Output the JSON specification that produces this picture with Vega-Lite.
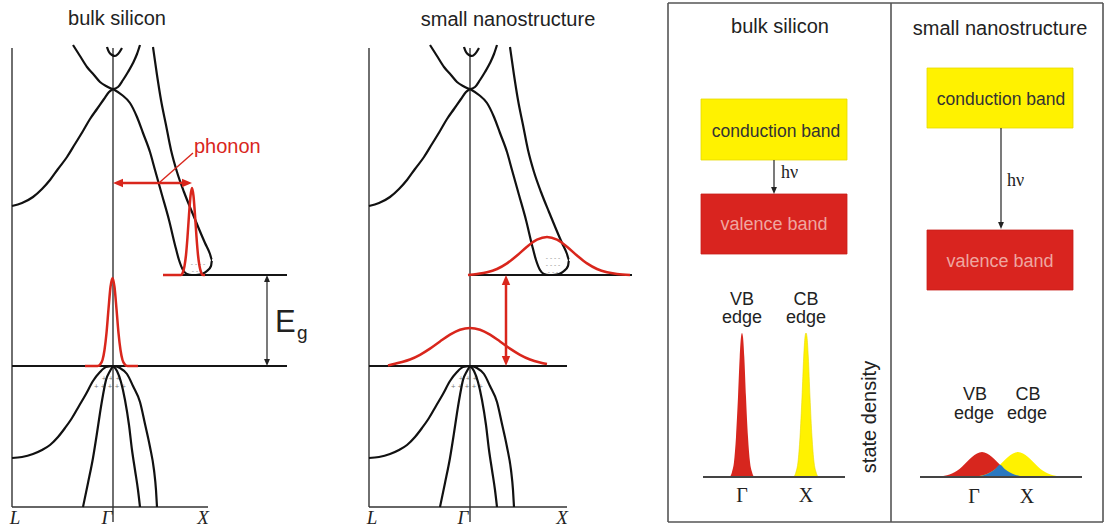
{
"$schema": "https://vega.github.io/schema/vega-lite/v6.json",
"width": 1105, "height": 531,
"autosize": {"type": "fit", "contains": "padding"},
"padding": 0,
"background": "white",
"config": {"view": {"stroke": null}},
"datasets": {
"frame": [{"x":668,"y":3,"x2":1103,"y2":3},{"x":668,"y":522,"x2":1103,"y2":522},{"x":668,"y":3,"x2":668,"y2":522},{"x":1103,"y":3,"x2":1103,"y2":522},{"x":891,"y":3,"x2":891,"y2":522}],
"axes": [{"x":12,"y":48,"x2":12,"y2":507},{"x":113,"y":48,"x2":113,"y2":522},{"x":12,"y":507,"x2":208,"y2":507},{"x":369,"y":48,"x2":369,"y2":507},{"x":470,"y":48,"x2":470,"y2":522},{"x":369,"y":507,"x2":567,"y2":507}],
"hlines": [{"x":12,"y":366,"x2":287,"y2":366},{"x":165,"y":275,"x2":287,"y2":275},{"x":369,"y":366,"x2":567,"y2":366},{"x":470,"y":275,"x2":632,"y2":275}],
"blackarrows": [{"x":267,"y":280,"x2":267,"y2":361},{"x":774,"y":160,"x2":774,"y2":188},{"x":1001,"y":128,"x2":1001,"y2":223}],
"redarrows": [{"x":119,"y":183,"x2":186,"y2":183},{"x":506,"y":282,"x2":506,"y2":359}],
"leader": [{"x":160,"y":182,"x2":193,"y2":153}],
"headsRed": [{"x":113,"y":183,"dir":"L"},{"x":192,"y":183,"dir":"R"},{"x":506,"y":275,"dir":"U"},{"x":506,"y":366,"dir":"D"}],
"headsBlack": [{"x":267,"y":275,"dir":"U"},{"x":267,"y":366,"dir":"D"},{"x":774,"y":194,"dir":"D"},{"x":1001,"y":229,"dir":"D"}],
"bands": [
{"c":"a1","i":1,"x":12,"y":206},{"c":"a1","i":2,"x":22,"y":203},{"c":"a1","i":3,"x":33,"y":197},{"c":"a1","i":4,"x":42,"y":189},{"c":"a1","i":5,"x":50,"y":180},{"c":"a1","i":6,"x":58,"y":169},{"c":"a1","i":7,"x":67,"y":157},{"c":"a1","i":8,"x":75,"y":144},{"c":"a1","i":9,"x":83,"y":131},{"c":"a1","i":10,"x":90,"y":119},{"c":"a1","i":11,"x":97,"y":109},{"c":"a1","i":12,"x":104,"y":99},{"c":"a1","i":13,"x":109,"y":92},{"c":"a1","i":14,"x":113,"y":89},
{"c":"a2","i":1,"x":113,"y":89},{"c":"a2","i":2,"x":122,"y":95},{"c":"a2","i":3,"x":130,"y":103},{"c":"a2","i":4,"x":137,"y":117},{"c":"a2","i":5,"x":143,"y":133},{"c":"a2","i":6,"x":150,"y":152},{"c":"a2","i":7,"x":155,"y":170},{"c":"a2","i":8,"x":162,"y":195},{"c":"a2","i":9,"x":169,"y":220},{"c":"a2","i":10,"x":175,"y":245},{"c":"a2","i":11,"x":179,"y":260},{"c":"a2","i":12,"x":183,"y":270},{"c":"a2","i":13,"x":187,"y":274},{"c":"a2","i":14,"x":192,"y":275},{"c":"a2","i":15,"x":197,"y":275},
{"c":"a3","i":1,"x":153,"y":47},{"c":"a3","i":2,"x":157,"y":75},{"c":"a3","i":3,"x":161,"y":100},{"c":"a3","i":4,"x":166,"y":125},{"c":"a3","i":5,"x":171,"y":150},{"c":"a3","i":6,"x":177,"y":172},{"c":"a3","i":7,"x":184,"y":192},{"c":"a3","i":8,"x":192,"y":212},{"c":"a3","i":9,"x":199,"y":229},{"c":"a3","i":10,"x":205,"y":243},{"c":"a3","i":11,"x":210,"y":254},{"c":"a3","i":12,"x":212,"y":260},{"c":"a3","i":13,"x":211,"y":266},{"c":"a3","i":14,"x":207,"y":271},{"c":"a3","i":15,"x":202,"y":274},{"c":"a3","i":16,"x":196,"y":275},
{"c":"a4","i":1,"x":73,"y":45},{"c":"a4","i":2,"x":80,"y":56},{"c":"a4","i":3,"x":87,"y":67},{"c":"a4","i":4,"x":94,"y":75},{"c":"a4","i":5,"x":100,"y":82},{"c":"a4","i":6,"x":106,"y":86},{"c":"a4","i":7,"x":113,"y":89},{"c":"a4","i":8,"x":118,"y":87},{"c":"a4","i":9,"x":123,"y":80},{"c":"a4","i":10,"x":128,"y":72},{"c":"a4","i":11,"x":133,"y":63},{"c":"a4","i":12,"x":137,"y":54},{"c":"a4","i":13,"x":140,"y":45},
{"c":"a5","i":1,"x":107,"y":47},{"c":"a5","i":2,"x":109,"y":52},{"c":"a5","i":3,"x":112,"y":55},{"c":"a5","i":4,"x":115,"y":56},{"c":"a5","i":5,"x":118,"y":54},{"c":"a5","i":6,"x":122,"y":48},
{"c":"a6","i":1,"x":12,"y":458},{"c":"a6","i":2,"x":22,"y":457},{"c":"a6","i":3,"x":33,"y":454},{"c":"a6","i":4,"x":42,"y":450},{"c":"a6","i":5,"x":50,"y":445},{"c":"a6","i":6,"x":58,"y":437},{"c":"a6","i":7,"x":65,"y":428},{"c":"a6","i":8,"x":72,"y":418},{"c":"a6","i":9,"x":79,"y":406},{"c":"a6","i":10,"x":86,"y":394},{"c":"a6","i":11,"x":93,"y":381},{"c":"a6","i":12,"x":100,"y":372},{"c":"a6","i":13,"x":106,"y":367},{"c":"a6","i":14,"x":113,"y":366},
{"c":"a7","i":1,"x":113,"y":366},{"c":"a7","i":2,"x":110,"y":371},{"c":"a7","i":3,"x":106,"y":380},{"c":"a7","i":4,"x":103,"y":395},{"c":"a7","i":5,"x":100,"y":413},{"c":"a7","i":6,"x":97,"y":433},{"c":"a7","i":7,"x":93,"y":458},{"c":"a7","i":8,"x":88,"y":483},{"c":"a7","i":9,"x":83,"y":507},
{"c":"a8","i":1,"x":113,"y":366},{"c":"a8","i":2,"x":117,"y":371},{"c":"a8","i":3,"x":121,"y":382},{"c":"a8","i":4,"x":125,"y":400},{"c":"a8","i":5,"x":129,"y":425},{"c":"a8","i":6,"x":132,"y":450},{"c":"a8","i":7,"x":135,"y":470},{"c":"a8","i":8,"x":138,"y":490},{"c":"a8","i":9,"x":140,"y":507},
{"c":"a9","i":1,"x":113,"y":366},{"c":"a9","i":2,"x":120,"y":368},{"c":"a9","i":3,"x":127,"y":374},{"c":"a9","i":4,"x":133,"y":386},{"c":"a9","i":5,"x":140,"y":402},{"c":"a9","i":6,"x":145,"y":424},{"c":"a9","i":7,"x":150,"y":447},{"c":"a9","i":8,"x":154,"y":470},{"c":"a9","i":9,"x":156,"y":490},{"c":"a9","i":10,"x":157,"y":507},
{"c":"b1","i":1,"x":369,"y":206},{"c":"b1","i":2,"x":379,"y":203},{"c":"b1","i":3,"x":390,"y":197},{"c":"b1","i":4,"x":399,"y":189},{"c":"b1","i":5,"x":407,"y":180},{"c":"b1","i":6,"x":415,"y":169},{"c":"b1","i":7,"x":424,"y":157},{"c":"b1","i":8,"x":432,"y":144},{"c":"b1","i":9,"x":440,"y":131},{"c":"b1","i":10,"x":447,"y":119},{"c":"b1","i":11,"x":454,"y":109},{"c":"b1","i":12,"x":461,"y":99},{"c":"b1","i":13,"x":466,"y":92},{"c":"b1","i":14,"x":470,"y":89},
{"c":"b2","i":1,"x":470,"y":89},{"c":"b2","i":2,"x":479,"y":95},{"c":"b2","i":3,"x":487,"y":103},{"c":"b2","i":4,"x":494,"y":117},{"c":"b2","i":5,"x":500,"y":133},{"c":"b2","i":6,"x":507,"y":152},{"c":"b2","i":7,"x":512,"y":170},{"c":"b2","i":8,"x":519,"y":195},{"c":"b2","i":9,"x":526,"y":220},{"c":"b2","i":10,"x":532,"y":245},{"c":"b2","i":11,"x":536,"y":260},{"c":"b2","i":12,"x":540,"y":270},{"c":"b2","i":13,"x":544,"y":274},{"c":"b2","i":14,"x":549,"y":275},{"c":"b2","i":15,"x":554,"y":275},
{"c":"b3","i":1,"x":510,"y":47},{"c":"b3","i":2,"x":514,"y":75},{"c":"b3","i":3,"x":518,"y":100},{"c":"b3","i":4,"x":523,"y":125},{"c":"b3","i":5,"x":528,"y":150},{"c":"b3","i":6,"x":534,"y":172},{"c":"b3","i":7,"x":541,"y":192},{"c":"b3","i":8,"x":549,"y":212},{"c":"b3","i":9,"x":556,"y":229},{"c":"b3","i":10,"x":562,"y":243},{"c":"b3","i":11,"x":567,"y":254},{"c":"b3","i":12,"x":569,"y":260},{"c":"b3","i":13,"x":568,"y":266},{"c":"b3","i":14,"x":564,"y":271},{"c":"b3","i":15,"x":559,"y":274},{"c":"b3","i":16,"x":553,"y":275},
{"c":"b4","i":1,"x":430,"y":45},{"c":"b4","i":2,"x":437,"y":56},{"c":"b4","i":3,"x":444,"y":67},{"c":"b4","i":4,"x":451,"y":75},{"c":"b4","i":5,"x":457,"y":82},{"c":"b4","i":6,"x":463,"y":86},{"c":"b4","i":7,"x":470,"y":89},{"c":"b4","i":8,"x":475,"y":87},{"c":"b4","i":9,"x":480,"y":80},{"c":"b4","i":10,"x":485,"y":72},{"c":"b4","i":11,"x":490,"y":63},{"c":"b4","i":12,"x":494,"y":54},{"c":"b4","i":13,"x":497,"y":45},
{"c":"b5","i":1,"x":464,"y":47},{"c":"b5","i":2,"x":466,"y":52},{"c":"b5","i":3,"x":469,"y":55},{"c":"b5","i":4,"x":472,"y":56},{"c":"b5","i":5,"x":475,"y":54},{"c":"b5","i":6,"x":479,"y":48},
{"c":"b6","i":1,"x":369,"y":458},{"c":"b6","i":2,"x":379,"y":457},{"c":"b6","i":3,"x":390,"y":454},{"c":"b6","i":4,"x":399,"y":450},{"c":"b6","i":5,"x":407,"y":445},{"c":"b6","i":6,"x":415,"y":437},{"c":"b6","i":7,"x":422,"y":428},{"c":"b6","i":8,"x":429,"y":418},{"c":"b6","i":9,"x":436,"y":406},{"c":"b6","i":10,"x":443,"y":394},{"c":"b6","i":11,"x":450,"y":381},{"c":"b6","i":12,"x":457,"y":372},{"c":"b6","i":13,"x":463,"y":367},{"c":"b6","i":14,"x":470,"y":366},
{"c":"b7","i":1,"x":470,"y":366},{"c":"b7","i":2,"x":467,"y":371},{"c":"b7","i":3,"x":463,"y":380},{"c":"b7","i":4,"x":460,"y":395},{"c":"b7","i":5,"x":457,"y":413},{"c":"b7","i":6,"x":454,"y":433},{"c":"b7","i":7,"x":450,"y":458},{"c":"b7","i":8,"x":445,"y":483},{"c":"b7","i":9,"x":440,"y":507},
{"c":"b8","i":1,"x":470,"y":366},{"c":"b8","i":2,"x":474,"y":371},{"c":"b8","i":3,"x":478,"y":382},{"c":"b8","i":4,"x":482,"y":400},{"c":"b8","i":5,"x":486,"y":425},{"c":"b8","i":6,"x":489,"y":450},{"c":"b8","i":7,"x":492,"y":470},{"c":"b8","i":8,"x":495,"y":490},{"c":"b8","i":9,"x":497,"y":507},
{"c":"b9","i":1,"x":470,"y":366},{"c":"b9","i":2,"x":477,"y":368},{"c":"b9","i":3,"x":484,"y":374},{"c":"b9","i":4,"x":490,"y":386},{"c":"b9","i":5,"x":497,"y":402},{"c":"b9","i":6,"x":502,"y":424},{"c":"b9","i":7,"x":507,"y":447},{"c":"b9","i":8,"x":511,"y":470},{"c":"b9","i":9,"x":513,"y":490},{"c":"b9","i":10,"x":514,"y":507}
],
"red": [
{"c":"r1","i":1,"x":85,"y":366},{"c":"r1","i":2,"x":97.5,"y":366},{"c":"r1","i":3,"x":100.5,"y":364},{"c":"r1","i":4,"x":102.5,"y":360},{"c":"r1","i":5,"x":104.5,"y":350},{"c":"r1","i":6,"x":106.5,"y":333},{"c":"r1","i":7,"x":108.5,"y":309},{"c":"r1","i":8,"x":110.5,"y":287},{"c":"r1","i":9,"x":112.5,"y":278},{"c":"r1","i":10,"x":114.5,"y":287},{"c":"r1","i":11,"x":116.5,"y":309},{"c":"r1","i":12,"x":118.5,"y":333},{"c":"r1","i":13,"x":120.5,"y":350},{"c":"r1","i":14,"x":122.5,"y":360},{"c":"r1","i":15,"x":124.5,"y":364},{"c":"r1","i":16,"x":127.5,"y":366},{"c":"r1","i":17,"x":138,"y":366},
{"c":"r2","i":1,"x":163,"y":275},{"c":"r2","i":2,"x":181,"y":275},{"c":"r2","i":3,"x":183,"y":272},{"c":"r2","i":4,"x":184.5,"y":266},{"c":"r2","i":5,"x":186,"y":255},{"c":"r2","i":6,"x":187.5,"y":237},{"c":"r2","i":7,"x":189,"y":215},{"c":"r2","i":8,"x":190.5,"y":196},{"c":"r2","i":9,"x":192,"y":188},{"c":"r2","i":10,"x":193.5,"y":196},{"c":"r2","i":11,"x":195,"y":215},{"c":"r2","i":12,"x":196.5,"y":237},{"c":"r2","i":13,"x":198,"y":255},{"c":"r2","i":14,"x":199.5,"y":266},{"c":"r2","i":15,"x":201,"y":272},{"c":"r2","i":16,"x":203,"y":275},{"c":"r2","i":17,"x":205,"y":275},
{"c":"r3","i":1,"x":388,"y":365.5},{"c":"r3","i":2,"x":400,"y":362.5},{"c":"r3","i":3,"x":410,"y":359.5},{"c":"r3","i":4,"x":420,"y":354.8},{"c":"r3","i":5,"x":430,"y":348.6},{"c":"r3","i":6,"x":440,"y":341.5},{"c":"r3","i":7,"x":450,"y":334.7},{"c":"r3","i":8,"x":460,"y":329.8},{"c":"r3","i":9,"x":470,"y":328},{"c":"r3","i":10,"x":480,"y":329.8},{"c":"r3","i":11,"x":490,"y":334.7},{"c":"r3","i":12,"x":500,"y":341.5},{"c":"r3","i":13,"x":510,"y":348.6},{"c":"r3","i":14,"x":520,"y":354.8},{"c":"r3","i":15,"x":530,"y":359.5},{"c":"r3","i":16,"x":540,"y":362.5},{"c":"r3","i":17,"x":547,"y":364},
{"c":"r4","i":1,"x":468,"y":275},{"c":"r4","i":2,"x":477,"y":274},{"c":"r4","i":3,"x":487,"y":272.3},{"c":"r4","i":4,"x":497,"y":269},{"c":"r4","i":5,"x":507,"y":263.4},{"c":"r4","i":6,"x":517,"y":255.5},{"c":"r4","i":7,"x":527,"y":246.7},{"c":"r4","i":8,"x":537,"y":239.7},{"c":"r4","i":9,"x":547,"y":237},{"c":"r4","i":10,"x":557,"y":239.7},{"c":"r4","i":11,"x":567,"y":246.7},{"c":"r4","i":12,"x":577,"y":255.5},{"c":"r4","i":13,"x":587,"y":263.4},{"c":"r4","i":14,"x":597,"y":269},{"c":"r4","i":15,"x":607,"y":272.3},{"c":"r4","i":16,"x":617,"y":274},{"c":"r4","i":17,"x":630,"y":275}
],
"boxesY": [{"x":701,"y":99,"x2":847,"y2":160},{"x":927,"y":68,"x2":1073,"y2":128}],
"boxesR": [{"x":701,"y":194,"x2":847,"y2":254},{"x":927,"y":230,"x2":1073,"y2":290}],
"spikeR": [{"x":730,"y":477,"b":477},{"x":732,"y":472,"b":477},{"x":734,"y":462,"b":477},{"x":736,"y":437,"b":477},{"x":738,"y":397,"b":477},{"x":739.7,"y":357,"b":477},{"x":741,"y":337,"b":477},{"x":742,"y":333,"b":477},{"x":743,"y":337,"b":477},{"x":744.3,"y":357,"b":477},{"x":746,"y":397,"b":477},{"x":748,"y":437,"b":477},{"x":750,"y":462,"b":477},{"x":752,"y":472,"b":477},{"x":754,"y":477,"b":477}],
"spikeY": [{"x":794,"y":477,"b":477},{"x":796,"y":472,"b":477},{"x":798,"y":462,"b":477},{"x":800,"y":437,"b":477},{"x":802,"y":397,"b":477},{"x":803.7,"y":357,"b":477},{"x":805,"y":337,"b":477},{"x":806,"y":333,"b":477},{"x":807,"y":337,"b":477},{"x":808.3,"y":357,"b":477},{"x":810,"y":397,"b":477},{"x":812,"y":437,"b":477},{"x":814,"y":462,"b":477},{"x":816,"y":472,"b":477},{"x":818,"y":477,"b":477}],
"gaussR": [{"x":937,"y":476.7,"b":477},{"x":942,"y":476.3,"b":477},{"x":947,"y":475.3,"b":477},{"x":952,"y":473.6,"b":477},{"x":957,"y":470.8,"b":477},{"x":962,"y":466.7,"b":477},{"x":967,"y":461.8,"b":477},{"x":972,"y":457,"b":477},{"x":977,"y":453.4,"b":477},{"x":982,"y":452,"b":477},{"x":987,"y":453.4,"b":477},{"x":992,"y":457,"b":477},{"x":997,"y":461.8,"b":477},{"x":1002,"y":466.7,"b":477},{"x":1007,"y":470.8,"b":477},{"x":1012,"y":473.6,"b":477},{"x":1017,"y":475.3,"b":477},{"x":1022,"y":476.3,"b":477},{"x":1027,"y":476.7,"b":477}],
"gaussY": [{"x":973,"y":476.7,"b":477},{"x":978,"y":476.3,"b":477},{"x":983,"y":475.3,"b":477},{"x":988,"y":473.6,"b":477},{"x":993,"y":470.8,"b":477},{"x":998,"y":466.7,"b":477},{"x":1003,"y":461.8,"b":477},{"x":1008,"y":457,"b":477},{"x":1013,"y":453.4,"b":477},{"x":1018,"y":452,"b":477},{"x":1023,"y":453.4,"b":477},{"x":1028,"y":457,"b":477},{"x":1033,"y":461.8,"b":477},{"x":1038,"y":466.7,"b":477},{"x":1043,"y":470.8,"b":477},{"x":1048,"y":473.6,"b":477},{"x":1053,"y":475.3,"b":477},{"x":1058,"y":476.3,"b":477},{"x":1063,"y":476.7,"b":477}],
"gaussB": [{"x":975,"y":476.6,"b":477},{"x":980,"y":476,"b":477},{"x":985,"y":474.8,"b":477},{"x":990,"y":472.6,"b":477},{"x":995,"y":469.3,"b":477},{"x":1000,"y":464.8,"b":477},{"x":1005,"y":469.3,"b":477},{"x":1010,"y":472.6,"b":477},{"x":1015,"y":474.8,"b":477},{"x":1020,"y":476,"b":477},{"x":1025,"y":476.6,"b":477}],
"baselines": [{"x":703,"y":477,"x2":845,"y2":477},{"x":920,"y":477,"x2":1082,"y2":477}],
"titles": [{"t":"bulk silicon","x":117,"y":25},{"t":"small nanostructure","x":508,"y":26},{"t":"bulk silicon","x":780,"y":33},{"t":"small nanostructure","x":1000,"y":35}],
"cbText": [{"t":"conduction band","x":776,"y":137},{"t":"conduction band","x":1001,"y":105}],
"vbText": [{"t":"valence band","x":774,"y":230},{"t":"valence band","x":1000,"y":267}],
"hv": [{"t":"hν","x":781,"y":178},{"t":"hν","x":1007,"y":186}],
"phonon": [{"t":"phonon","x":194,"y":153}],
"eBig": [{"t":"E","x":275,"y":332}],
"eSub": [{"t":"g","x":297,"y":339}],
"kLabels": [{"t":"L","x":15,"y":524},{"t":"Γ","x":107,"y":524},{"t":"X","x":203,"y":524},{"t":"L","x":372,"y":524},{"t":"Γ","x":463,"y":524},{"t":"X","x":562,"y":524}],
"edgeText": [{"t":"VB","x":742,"y":305},{"t":"edge","x":742,"y":323},{"t":"CB","x":806,"y":305},{"t":"edge","x":806,"y":323},{"t":"VB","x":975,"y":400},{"t":"edge","x":974,"y":419},{"t":"CB","x":1028,"y":400},{"t":"edge","x":1027,"y":419}],
"gx": [{"t":"Γ","x":742,"y":502},{"t":"X","x":806,"y":502},{"t":"Γ","x":974,"y":503},{"t":"X","x":1027,"y":503}],
"sd": [{"t":"state density","x":870,"y":417}],
"dots": [{"t":"+ + + + +","x":110,"y":386},{"t":"+ + +","x":111,"y":378},{"t":"+ + + + +","x":467,"y":386},{"t":"+ + +","x":468,"y":378},{"t":"- - - -","x":198,"y":264},{"t":"- - -","x":197,"y":271},{"t":"- - - -","x":553,"y":258},{"t":"- - - -","x":553,"y":265},{"t":"- - -","x":553,"y":272}]
},
"encoding": {
"x": {"field": "x", "type": "quantitative", "scale": {"domain": [0, 1105], "nice": false, "zero": false}, "axis": null},
"y": {"field": "y", "type": "quantitative", "scale": {"domain": [0, 531], "reverse": true, "nice": false, "zero": false}, "axis": null}
},
"layer": [
{"data": {"name": "boxesY"}, "mark": {"type": "rect", "fill": "#fff200", "stroke": "#e6d900", "strokeWidth": 0.8}, "encoding": {"x2": {"field": "x2"}, "y2": {"field": "y2"}}},
{"data": {"name": "boxesR"}, "mark": {"type": "rect", "fill": "#d9241f", "stroke": "#c81e1a", "strokeWidth": 0.8}, "encoding": {"x2": {"field": "x2"}, "y2": {"field": "y2"}}},
{"data": {"name": "frame"}, "mark": {"type": "rule", "stroke": "#555555", "strokeWidth": 1.6}, "encoding": {"x2": {"field": "x2"}, "y2": {"field": "y2"}}},
{"data": {"name": "axes"}, "mark": {"type": "rule", "stroke": "#333333", "strokeWidth": 1.4}, "encoding": {"x2": {"field": "x2"}, "y2": {"field": "y2"}}},
{"data": {"name": "hlines"}, "mark": {"type": "rule", "stroke": "#151515", "strokeWidth": 1.8}, "encoding": {"x2": {"field": "x2"}, "y2": {"field": "y2"}}},
{"data": {"name": "blackarrows"}, "mark": {"type": "rule", "stroke": "#222222", "strokeWidth": 1.2}, "encoding": {"x2": {"field": "x2"}, "y2": {"field": "y2"}}},
{"data": {"name": "dots"}, "mark": {"type": "text", "font": "DejaVu Sans", "fontSize": 6, "fill": "#777777", "align": "center", "baseline": "middle"}, "encoding": {"text": {"field": "t"}}},
{"data": {"name": "bands"}, "mark": {"type": "line", "stroke": "#111111", "strokeWidth": 2.2, "interpolate": "monotone"}, "encoding": {"detail": {"field": "c"}, "order": {"field": "i"}}},
{"data": {"name": "red"}, "mark": {"type": "line", "stroke": "#d9261c", "strokeWidth": 2.5, "interpolate": "monotone"}, "encoding": {"detail": {"field": "c"}, "order": {"field": "i"}}},
{"data": {"name": "redarrows"}, "mark": {"type": "rule", "stroke": "#d9261c", "strokeWidth": 2.5}, "encoding": {"x2": {"field": "x2"}, "y2": {"field": "y2"}}},
{"data": {"name": "leader"}, "mark": {"type": "rule", "stroke": "#d9261c", "strokeWidth": 1.4}, "encoding": {"x2": {"field": "x2"}, "y2": {"field": "y2"}}},
{"data": {"name": "headsRed"}, "mark": {"type": "point", "filled": true, "fill": "#d9261c", "opacity": 1, "size": 400, "strokeWidth": 0}, "encoding": {"shape": {"field": "dir", "type": "nominal", "scale": {"domain": ["L", "R", "U", "D"], "range": ["M0,0L1,-0.42L1,0.42Z", "M0,0L-1,-0.42L-1,0.42Z", "M0,0L-0.42,1L0.42,1Z", "M0,0L-0.42,-1L0.42,-1Z"]}, "legend": null}}},
{"data": {"name": "headsBlack"}, "mark": {"type": "point", "filled": true, "fill": "#222222", "opacity": 1, "size": 196, "strokeWidth": 0}, "encoding": {"shape": {"field": "dir", "type": "nominal", "scale": {"domain": ["L", "R", "U", "D"], "range": ["M0,0L1,-0.4L1,0.4Z", "M0,0L-1,-0.4L-1,0.4Z", "M0,0L-0.4,1L0.4,1Z", "M0,0L-0.4,-1L0.4,-1Z"]}, "legend": null}}},
{"data": {"name": "spikeR"}, "mark": {"type": "area", "fill": "#d7261e", "interpolate": "monotone"}, "encoding": {"y2": {"field": "b"}}},
{"data": {"name": "spikeY"}, "mark": {"type": "area", "fill": "#fff200", "stroke": "#e8d800", "strokeWidth": 0.6, "interpolate": "monotone"}, "encoding": {"y2": {"field": "b"}}},
{"data": {"name": "gaussR"}, "mark": {"type": "area", "fill": "#d7261e", "interpolate": "monotone"}, "encoding": {"y2": {"field": "b"}}},
{"data": {"name": "gaussY"}, "mark": {"type": "area", "fill": "#fff200", "interpolate": "monotone"}, "encoding": {"y2": {"field": "b"}}},
{"data": {"name": "gaussB"}, "mark": {"type": "area", "fill": "#2a78c0", "interpolate": "monotone"}, "encoding": {"y2": {"field": "b"}}},
{"data": {"name": "baselines"}, "mark": {"type": "rule", "stroke": "#444444", "strokeWidth": 2}, "encoding": {"x2": {"field": "x2"}, "y2": {"field": "y2"}}},
{"data": {"name": "titles"}, "mark": {"type": "text", "font": "Liberation Sans", "fontSize": 20, "fill": "#222222", "align": "center", "baseline": "alphabetic"}, "encoding": {"text": {"field": "t"}}},
{"data": {"name": "cbText"}, "mark": {"type": "text", "font": "Liberation Sans", "fontSize": 17.5, "fill": "#333333", "align": "center", "baseline": "alphabetic"}, "encoding": {"text": {"field": "t"}}},
{"data": {"name": "vbText"}, "mark": {"type": "text", "font": "Liberation Sans", "fontSize": 18, "fill": "#efa6a0", "align": "center", "baseline": "alphabetic"}, "encoding": {"text": {"field": "t"}}},
{"data": {"name": "hv"}, "mark": {"type": "text", "font": "Liberation Serif", "fontSize": 18, "fill": "#222222", "align": "left", "baseline": "alphabetic"}, "encoding": {"text": {"field": "t"}}},
{"data": {"name": "phonon"}, "mark": {"type": "text", "font": "Liberation Sans", "fontSize": 20, "fill": "#d9261c", "align": "left", "baseline": "alphabetic"}, "encoding": {"text": {"field": "t"}}},
{"data": {"name": "eBig"}, "mark": {"type": "text", "font": "Liberation Sans", "fontSize": 31, "fill": "#222222", "align": "left", "baseline": "alphabetic"}, "encoding": {"text": {"field": "t"}}},
{"data": {"name": "eSub"}, "mark": {"type": "text", "font": "Liberation Sans", "fontSize": 19, "fill": "#222222", "align": "left", "baseline": "alphabetic"}, "encoding": {"text": {"field": "t"}}},
{"data": {"name": "kLabels"}, "mark": {"type": "text", "font": "Liberation Serif", "fontStyle": "italic", "fontSize": 19, "fill": "#222222", "align": "center", "baseline": "alphabetic"}, "encoding": {"text": {"field": "t"}}},
{"data": {"name": "edgeText"}, "mark": {"type": "text", "font": "Liberation Sans", "fontSize": 18, "fill": "#222222", "align": "center", "baseline": "alphabetic"}, "encoding": {"text": {"field": "t"}}},
{"data": {"name": "gx"}, "mark": {"type": "text", "font": "Liberation Serif", "fontSize": 20, "fill": "#222222", "align": "center", "baseline": "alphabetic"}, "encoding": {"text": {"field": "t"}}},
{"data": {"name": "sd"}, "mark": {"type": "text", "font": "Liberation Sans", "fontSize": 20, "fill": "#222222", "align": "center", "baseline": "middle", "angle": 270}, "encoding": {"text": {"field": "t"}}}
]
}
